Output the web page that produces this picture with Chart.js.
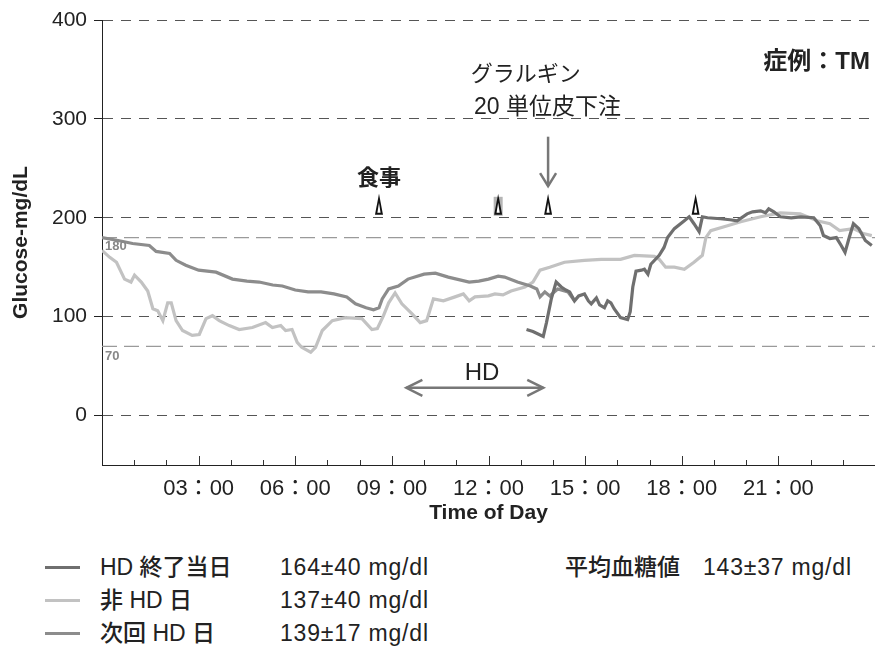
<!DOCTYPE html>
<html>
<head>
<meta charset="utf-8">
<script src="https://cdn.jsdelivr.net/npm/chart.js@4.4.1/dist/chart.umd.min.js"></script>
<style>
  body { margin: 0; background: #fff; font-family: "Liberation Sans", "Noto Sans CJK JP", sans-serif; color: #222; }
  #wrap { position: relative; width: 875px; height: 650px; }
  #box { position: absolute; left: 0; top: 0; width: 875px; height: 535px; }
  .lg { position: absolute; font-size: 23px; line-height: 26px; font-weight: 500; white-space: nowrap; }
  .lg.n, .lg .n { font-size: 23px; letter-spacing: 0.8px; }
  .sw { position: absolute; width: 35px; height: 3px; }
</style>
</head>
<body>
<div id="wrap">
  <div id="box"><canvas id="c"></canvas></div>

  <div class="sw" style="left:45px;top:566px;background:#6f6f6f"></div>
  <div class="lg" style="left:100px;top:554px">HD 終了当日</div>
  <div class="lg n" style="left:280px;top:554px">164±40 mg/dl</div>
  <div class="lg" style="left:565px;top:554px">平均血糖値　<span class="n">143±37 mg/dl</span></div>

  <div class="sw" style="left:45px;top:599px;background:#c2c2c2"></div>
  <div class="lg" style="left:100px;top:587px">非 HD 日</div>
  <div class="lg n" style="left:280px;top:587px">137±40 mg/dl</div>

  <div class="sw" style="left:45px;top:632px;background:#8c8c8c"></div>
  <div class="lg" style="left:100px;top:620px">次回 HD 日</div>
  <div class="lg n" style="left:280px;top:620px">139±17 mg/dl</div>
</div>
<script>
// CGM glucose traces (hour of day, mg/dL)

const yTicks = [0, 100, 200, 300, 400];
const xLabelHours = [3, 6, 9, 12, 15, 18, 21];
const refLevels = [180, 70];

// 次回 HD 日
const nextHdHours = [0, 0.5, 0.95, 1.47, 1.68, 2.1, 2.3, 2.6, 3.0, 3.54, 4.05, 4.5, 4.88, 5.3, 5.6, 6.0, 6.4, 6.8,
  7.2, 7.6, 7.87, 8.2, 8.43, 8.6, 8.7, 8.9, 9.2, 9.5, 10.0, 10.35, 10.75, 11.4, 11.7, 12.0, 12.3, 12.5, 12.9,
  13.3, 13.5, 13.6, 13.75, 13.9, 14.15, 14.47, 14.67];
const nextHdValues = [180, 177, 174, 172, 166, 164, 157, 152, 147, 145, 138, 136, 135, 132, 131, 127, 125, 125,
  123, 120, 113, 109, 107, 109, 118, 128, 131, 138, 143, 144, 140, 135, 136, 138, 141, 140, 135,
  131, 128, 120, 125, 121, 128, 125, 116];

// HD 終了当日
const hdEndHours = [13.18, 13.38, 13.7, 13.8, 13.95, 14.1, 14.26, 14.4, 14.52, 14.67, 14.8, 14.98, 15.1, 15.19,
  15.35, 15.45, 15.6, 15.7, 15.8, 15.9, 16.1, 16.32, 16.4, 16.48, 16.58, 16.75, 16.84, 16.95, 17.04, 17.3,
  17.45, 17.56, 17.77, 18.08, 18.23, 18.38, 18.54, 18.64, 18.8, 19.2, 19.5, 19.72, 20.03, 20.2, 20.45, 20.6,
  20.7, 20.86, 21.06, 21.4, 21.68, 22.1, 22.3, 22.4, 22.6, 22.8, 22.95, 23.07, 23.2, 23.33, 23.5, 23.7, 23.9];
const hdEndValues = [87, 85, 80, 94, 118, 135, 130, 127, 125, 116, 121, 123, 116, 113,
  119, 112, 109, 116, 114, 108, 99, 97, 105, 130, 146, 147, 148, 143, 153, 162,
  170, 180, 189, 197, 201, 194, 186, 201, 200, 199, 198, 197, 204, 206, 207, 205,
  209, 206, 201, 200, 201, 200, 192, 182, 179, 180, 172, 165, 180, 194, 189, 177, 172];

// 非 HD 日
const nonHdHours = [0, 0.24, 0.45, 0.7, 0.9, 1.01, 1.22, 1.42, 1.58, 1.73, 1.89, 2.04, 2.15, 2.3, 2.5, 2.8, 3.02,
  3.23, 3.43, 3.64, 3.95, 4.26, 4.67, 5.08, 5.29, 5.55, 5.7, 5.9, 6.06, 6.2, 6.48, 6.63, 6.84, 7.15, 7.56,
  8.07, 8.38, 8.55, 8.74, 8.9, 9.1, 9.31, 9.62, 9.88, 10.08, 10.29, 10.6, 10.96, 11.22, 11.4, 11.58, 12.0,
  12.2, 12.45, 12.7, 13.13, 13.38, 13.6, 13.9, 14.36, 14.98, 15.5, 16.1, 16.53, 17.15, 17.3, 17.5, 17.77,
  18.08, 18.38, 18.64, 18.75, 18.9, 19.42, 19.83, 20.45, 21.06, 21.68, 22.2, 22.6, 22.9, 23.33, 23.64, 23.9];
const nonHdValues = [167, 160, 155, 138, 135, 142, 135, 126, 108, 106, 96, 114, 114, 96, 86, 81, 82,
  98, 101, 96, 91, 87, 89, 94, 89, 91, 86, 87, 74, 69, 64, 69, 86, 96, 99,
  98, 87, 88, 101, 114, 124, 113, 103, 94, 96, 118, 116, 120, 123, 116, 120, 121,
  123, 122, 126, 130, 135, 147, 150, 155, 157, 158, 158, 162, 161, 158, 150, 150,
  148, 155, 162, 180, 187, 192, 196, 201, 205, 204, 197, 194, 187, 189, 184, 182];

// meals (食事) and insulin
const mealHours = [8.6, 12.3, 13.85, 18.43];
const insulinHour = 13.85;
const hdStart = 9.45, hdEnd = 13.7;

const pts = (xs, ys) => xs.map((h, i) => ({ x: h, y: ys[i] }));
const JP = '"Liberation Sans", "Noto Sans CJK JP", sans-serif';

function line(label, xs, ys, color) {
  return { label, data: pts(xs, ys), borderColor: color, borderWidth: 3.2, pointRadius: 0, tension: 0, fill: false };
}
function refLine(v) {
  return { label: 'ref' + v, data: [{ x: 0, y: v }, { x: 24, y: v }], borderColor: '#9a9a9a', borderWidth: 1.3,
    borderDash: [15, 7], pointRadius: 0, fill: false };
}

function arrowHead(ctx, x, y, dx, dy) {
  ctx.beginPath();
  ctx.moveTo(x + dx[0], y + dy[0]);
  ctx.lineTo(x, y);
  ctx.lineTo(x + dx[1], y + dy[1]);
  ctx.stroke();
}

const annot = {
  id: 'annot',
  afterDraw(chart) {
    const { ctx, chartArea: ca, scales: { x, y } } = chart;
    ctx.save();

    // hour ticks pointing up from the time axis
    ctx.strokeStyle = '#333';
    ctx.lineWidth = 1;
    for (let h = 1; h < 24; h++) {
      const px = Math.round(x.getPixelForValue(h)) + 0.5;
      ctx.beginPath();
      ctx.moveTo(px, ca.bottom);
      ctx.lineTo(px, ca.bottom - (h % 3 === 0 ? 9 : 5));
      ctx.stroke();
    }

    // reference labels
    ctx.fillStyle = '#888';
    ctx.font = 'bold 13px ' + JP;
    ctx.textAlign = 'left';
    ctx.textBaseline = 'middle';
    ctx.fillText('180', ca.left + 3, y.getPixelForValue(171));
    ctx.fillText('70', ca.left + 3, y.getPixelForValue(60));

    // meal markers
    mealHours.forEach((h, i) => {
      const px = x.getPixelForValue(h);
      const base = y.getPixelForValue(203);
      if (i === 1) {
        ctx.fillStyle = '#b5b5b5';
        ctx.fillRect(px - 4.5, base - 18, 9, 19);
      }
      ctx.fillStyle = '#111';
      ctx.beginPath();
      ctx.moveTo(px, base - 21);
      ctx.lineTo(px + 4, base);
      ctx.lineTo(px - 4, base);
      ctx.closePath();
      ctx.fill();
      ctx.fillStyle = '#fff';
      ctx.beginPath();
      ctx.moveTo(px, base - 12);
      ctx.lineTo(px + 1.6, base - 2);
      ctx.lineTo(px - 1.6, base - 2);
      ctx.closePath();
      ctx.fill();
    });

    // insulin arrow
    ctx.strokeStyle = '#777';
    ctx.lineWidth = 2.5;
    const ix = x.getPixelForValue(insulinHour);
    const iTop = y.getPixelForValue(282), iTip = y.getPixelForValue(232);
    ctx.beginPath();
    ctx.moveTo(ix, iTop);
    ctx.lineTo(ix, iTip);
    ctx.stroke();
    arrowHead(ctx, ix, iTip, [-8, 8], [-13, -13]);

    // HD span
    const hy = y.getPixelForValue(28);
    const h1 = x.getPixelForValue(hdStart), h2 = x.getPixelForValue(hdEnd);
    ctx.beginPath();
    ctx.moveTo(h1, hy);
    ctx.lineTo(h2, hy);
    ctx.stroke();
    arrowHead(ctx, h1, hy, [16, 16], [-8, 8]);
    arrowHead(ctx, h2, hy, [-16, -16], [-8, 8]);

    // texts
    ctx.fillStyle = '#222';
    ctx.textBaseline = 'middle';
    ctx.font = '24px ' + JP;
    ctx.textAlign = 'center';
    ctx.fillText('HD', x.getPixelForValue(11.8), y.getPixelForValue(43));
    ctx.font = 'bold 22px ' + JP;
    ctx.fillText('食事', x.getPixelForValue(8.6), y.getPixelForValue(239));
    ctx.font = '22px ' + JP;
    ctx.textAlign = 'left';
    ctx.fillText('グラルギン', x.getPixelForValue(11.45), y.getPixelForValue(344));
    ctx.font = '23px ' + JP;
    ctx.fillText('20 単位皮下注', x.getPixelForValue(11.55), y.getPixelForValue(311));
    ctx.font = 'bold 24px ' + JP;
    ctx.textAlign = 'right';
    ctx.fillText('症例：TM', ca.right - 5, y.getPixelForValue(357));
    ctx.restore();
  }
};

new Chart(document.getElementById('c'), {
  type: 'line',
  data: {
    datasets: [
      line('HD 終了当日', hdEndHours, hdEndValues, '#6f6f6f'),
      line('次回 HD 日', nextHdHours, nextHdValues, '#8c8c8c'),
      line('非 HD 日', nonHdHours, nonHdValues, '#c2c2c2'),
      ...refLevels.map(refLine),
    ],
  },
  options: {
    responsive: true,
    maintainAspectRatio: false,
    animation: false,
    layout: { padding: { top: 20, right: 0, left: 0, bottom: 0 } },
    plugins: { legend: { display: false }, tooltip: { enabled: false } },
    scales: {
      x: {
        type: 'linear',
        min: 0,
        max: 24,
        afterBuildTicks: (s) => { s.ticks = xLabelHours.map((v) => ({ value: v })); },
        afterFit: (s) => { s.height = 70; },
        grid: { display: false },
        border: { color: '#222', width: 1 },
        ticks: {
          autoSkip: false,
          maxRotation: 0,
          padding: 3,
          color: '#222',
          font: { family: JP, size: 22 },
          callback: (v) => String(v).padStart(2, '0') + '：00',
        },
        title: {
          display: true,
          text: 'Time of Day',
          color: '#222',
          font: { family: JP, size: 21, weight: 'bold' },
          padding: { top: 0, bottom: 9 },
        },
      },
      y: {
        min: -50,
        max: 400,
        afterBuildTicks: (s) => { s.ticks = yTicks.map((v) => ({ value: v })); },
        afterFit: (s) => { s.width = 102; },
        grid: { color: '#555', lineWidth: 1, tickLength: 8, tickColor: '#222', tickBorderDash: [] },
        border: { color: '#222', width: 1, dash: [10, 8] },
        ticks: { color: '#222', padding: 7, font: { family: JP, size: 21 } },
        title: {
          display: true,
          text: 'Glucose-mg/dL',
          color: '#222',
          font: { family: JP, size: 21, weight: 'bold' },
          padding: { top: 9, bottom: 0 },
        },
      },
    },
  },
  plugins: [annot],
});
</script>
</body>
</html>
